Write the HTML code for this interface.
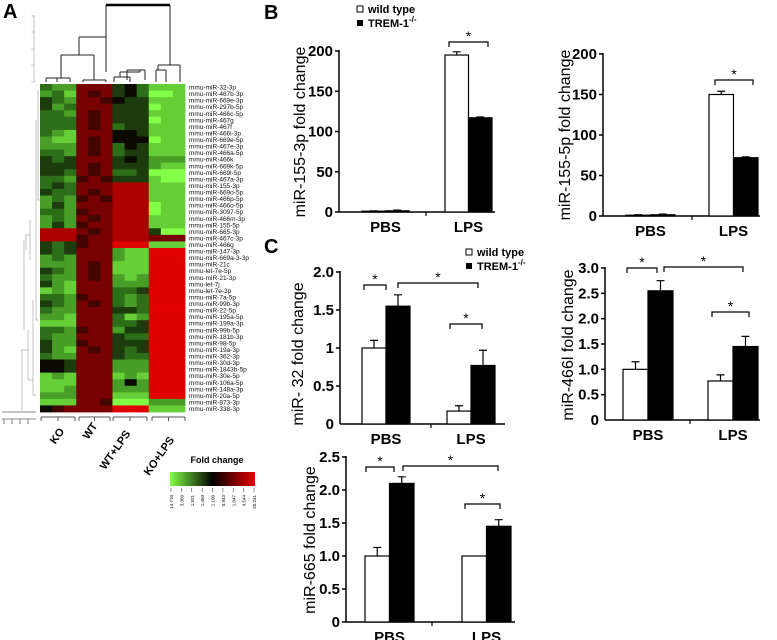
<!DOCTYPE html>
<html><head><meta charset="utf-8">
<style>
html,body{margin:0;padding:0;background:#fff;}
svg{display:block;font-family:"Liberation Sans",Arial,sans-serif;}
.tk{font-size:15px;font-weight:bold;}
.yl{font-size:16px;}
.xl{font-size:15px;font-weight:bold;}
.lg{font-size:11px;font-weight:bold;}
.pl{font-size:20px;font-weight:bold;}
.rl{font-size:6.5px;}
</style></head>
<body>
<svg id="fig" width="777" height="640" viewBox="0 0 777 640">
<text class="pl" x="3" y="18">A</text>
<text class="pl" x="264" y="19">B</text>
<text class="pl" x="264" y="253">C</text>
<g id="heat"></g>
<g id="bars"></g>
</svg>
<script>
// ---------- Heatmap data ----------
const heatRows = ["mmu-miR-32-3p","mmu-miR-467b-3p","mmu-miR-669e-3p","mmu-miR-297b-5p","mmu-miR-466c-5p","mmu-miR-467g","mmu-miR-467f","mmu-miR-466i-3p","mmu-miR-669e-5p","mmu-miR-467e-3p","mmu-miR-466a-5p","mmu-miR-466k","mmu-miR-669k-5p","mmu-miR-669l-5p","mmu-miR-467a-3p","mmu-miR-155-3p","mmu-miR-669o-5p","mmu-miR-466p-5p","mmu-miR-466o-5p","mmu-miR-3097-5p","mmu-miR-466m-3p","mmu-miR-155-5p","mmu-miR-665-3p","mmu-miR-467c-3p","mmu-miR-466g","mmu-miR-147-3p","mmu-miR-669a-3-3p","mmu-miR-21c","mmu-let-7e-5p","mmu-miR-21-3p","mmu-let-7j","mmu-let-7e-3p","mmu-miR-7a-5p","mmu-miR-99b-3p","mmu-miR-22-5p","mmu-miR-195a-5p","mmu-miR-199a-3p","mmu-miR-99b-5p","mmu-miR-181b-3p","mmu-miR-98-5p","mmu-miR-19a-3p","mmu-miR-362-3p","mmu-miR-30d-3p","mmu-miR-1843b-5p","mmu-miR-30e-5p","mmu-miR-106a-5p","mmu-miR-148a-3p","mmu-miR-20a-5p","mmu-miR-873-3p","mmu-miR-338-3p"];
const heatGroups = ["KO","WT","WT+LPS","KO+LPS"];
const heatValues = ["322777453111","231767453001","432776544111","423777444011","332767444111","333767444011","333767344111","321777554111","211767555011","222767354111","332767344111","434777454222","444767444211","443767334000","332676444100","343777888111","433767888111","232676888111","242777888011","332677888011","232767888111","242677888111","888767888400","888677888777","434677999111","434777211999","232777211999","222767111999","432767111999","322767212999","421777222999","121777334999","332677323999","432767323999","322777443999","221777312999","111777334999","332677244999","322777433999","422677444999","421767434999","322777433999","554777222999","554777222999","121777121999","111777252999","112777222999","222777111999","111776000222","567777999111"];
const colorbarTicks = ["14.710","3.309","1.921","1.450","1.100","0.943","1.047","4.544","20.241"];

// ---------- Bar chart data ----------
const groups = ["PBS","LPS"];
const b1WT = [1, 195], b1KO = [1.5, 117], b1WTerr = [0.5, 4], b1KOerr = [0.8, 1];
const b2WT = [1, 150], b2KO = [1.5, 72], b2WTerr = [0.5, 4], b2KOerr = [0.8, 1];
const c1WT = [1.0, 0.17], c1KO = [1.55, 0.77], c1WTerr = [0.1, 0.07], c1KOerr = [0.15, 0.2];
const c2WT = [1.0, 0.77], c2KO = [2.55, 1.45], c2WTerr = [0.15, 0.12], c2KOerr = [0.2, 0.2];
const c3WT = [1.0, 1.0], c3KO = [2.1, 1.45], c3WTerr = [0.13, 0.0], c3KOerr = [0.1, 0.1];
const b1Ticks = ["0","50","100","150","200"], b1TickVals = [0,50,100,150,200];
const c1Ticks = ["0.5","1","1.5","2.0"], c1TickVals = [0.5,1,1.5,2.0];
const c2Ticks = ["0.5","1.0","1.5","2.0","2.5","3.0"], c2TickVals = [0.5,1,1.5,2,2.5,3];
const c3Ticks = ["0","0.5","1.0","1.5","2.0","2.5"], c3TickVals = [0,0.5,1,1.5,2,2.5];

const NS = "http://www.w3.org/2000/svg";
function mk(parent, tag, attrs, text){
  const e = document.createElementNS(NS, tag);
  for (const k in attrs) e.setAttribute(k, attrs[k]);
  if (text !== undefined) e.textContent = text;
  parent.appendChild(e);
  return e;
}
function heatColor(v){
  const stops = [[0,[130,255,70]],[3,[45,110,25]],[5,[12,10,0]],[7,[120,0,0]],[9,[225,0,0]]];
  for (let i=0;i<stops.length-1;i++){
    const [a,ca]=stops[i],[b,cb]=stops[i+1];
    if (v<=b){const t=(v-a)/(b-a);return "rgb("+ca.map((c,j)=>Math.round(c+(cb[j]-c)*t)).join(",")+")";}
  }
  return "rgb(225,0,0)";
}

// ---------- Heatmap ----------
const H = document.getElementById("heat");
const hx0 = 40, hx1 = 185, hy0 = 84, hy1 = 412;
const cw = (hx1-hx0)/12, rh = (hy1-hy0)/heatRows.length;
heatValues.forEach((row,r)=>{
  for (let c=0;c<12;c++){
    const cell = mk(H,"rect",{x:hx0+c*cw,y:hy0+r*rh,width:cw+0.4,height:rh+0.4,fill:heatColor(+row[c])});
    
    
  }
  const lab = mk(H,"text",{x:hx1+4,y:hy0+r*rh+rh-1,class:"rl",fill:"#111"},heatRows[r]);
  
  
});
// column dendrogram
const dend = mk(H,"path",{d:"M106 5H170M106 5V37M170 5V65M79 37H106M79 37V55M106 37V72M61 55H94M61 55V78M94 55V80M46 78H70M46 78V82M57 78V82M70 78V82M83 80H106M83 80V82M106 80V82M120 72H140M120 72V77M140 72V70M127 70H145M127 70V80M145 70V80M114 77H130M114 77V82M130 77V82M158 65H180M158 65V70M180 65V82M156 70H166M156 70V82M166 70V82",stroke:"#222","stroke-width":1,fill:"none"});


mk(dend.parentNode,"path",{d:"M106 5H170",stroke:"#000","stroke-width":2.5});
const dax = mk(H,"path",{d:"M34 15V82M31 16H34M31 32H34M31 49H34M31 65H34M31 82H34",stroke:"#999","stroke-width":0.6,fill:"none"});


const rd = mk(H,"path",{d:"M22 410V350H28M28 330V380H33M33 300V395H36M36 120V320H38M38 90V200H40M24 240V330M26 250V235H30M30 220V260",stroke:"#aaa","stroke-width":0.7,fill:"none"});


mk(H,"path",{d:"M2 412H36M2 419H36M4 419V424M12 419V424M20 419V424M28 419V424",stroke:"#666","stroke-width":0.8,fill:"none"});
const gx = [[41,75],[79,110],[113,147],[152,185]];
const gc = [[60,438],[93,433],[118,452],[162,458]];
heatGroups.forEach((g,i)=>{
  mk(H,"path",{d:`M${gx[i][0]} 417H${gx[i][1]}M${gx[i][0]} 417V421M${gx[i][1]} 417V421M${(gx[i][0]+gx[i][1])/2} 417V421`,stroke:"#555","stroke-width":1});
  const t = mk(H,"text",{x:gc[i][0],y:gc[i][1],"font-size":"11px","font-weight":"bold","text-anchor":"middle",transform:`rotate(-55 ${gc[i][0]} ${gc[i][1]})`},g);
  
  
});
const defs = mk(H,"defs",{});
const lgd = mk(defs,"linearGradient",{id:"cb",x1:"0",x2:"1",y1:"0",y2:"0"});
mk(lgd,"stop",{offset:"0",["stop-color"]:"rgb(130,255,70)"});
mk(lgd,"stop",{offset:"0.5",["stop-color"]:"rgb(0,0,0)"});
mk(lgd,"stop",{offset:"1",["stop-color"]:"rgb(230,0,0)"});
const cbar = mk(H,"rect",{x:170,y:472,width:85,height:14,fill:"url(#cb)"});


const cbt = mk(H,"text",{x:217,y:463,"font-size":"9px","font-weight":"bold","text-anchor":"middle"},"Fold change");


colorbarTicks.forEach((t,i)=>{
  const x = 171 + i*(83/(colorbarTicks.length-1));
  mk(H,"line",{x1:x,x2:x,y1:488,y2:492,stroke:"#444","stroke-width":0.6});
  const tt = mk(H,"text",{x:x+2,y:495,"font-size":"4.5px","text-anchor":"end",transform:`rotate(-90 ${x+2} 495)`},t);
  
  
});

// ---------- Bar charts ----------
const B = document.getElementById("bars");
function legend(x,y,name){
  const g = mk(B,"g",{});
  
  
  mk(g,"rect",{x:x,y:y-7,width:6,height:6,fill:"#fff",stroke:"#000","stroke-width":1});
  mk(g,"text",{x:x+11,y:y,class:"lg"},"wild type");
  mk(g,"rect",{x:x,y:y+7,width:6,height:6,fill:"#000"});
  const t = mk(g,"text",{x:x+11,y:y+14,class:"lg"},"TREM-1");
  mk(t,"tspan",{dy:-5,"font-size":"8px"},"-/-");
}
function chart(o){
  const g = mk(B,"g",{});
  
  
  const ys = v => o.y0 - (v - 0)*(o.y0 - o.yTop)/o.vmax;
  mk(g,"line",{x1:o.ax,x2:o.ax,y1:ys(o.vmax)-1,y2:o.y0,stroke:"#000","stroke-width":1.5});
  mk(g,"line",{x1:o.ax,x2:o.axEnd,y1:o.y0,y2:o.y0,stroke:"#000","stroke-width":1.5});
  mk(g,"line",{x1:o.mid,x2:o.mid,y1:o.y0,y2:o.y0+4,stroke:"#000","stroke-width":1.2});
  o.ticks.forEach((t,i)=>{
    const y = ys(o.tickVals[i]);
    mk(g,"line",{x1:o.ax-4,x2:o.ax,y1:y,y2:y,stroke:"#000","stroke-width":1.5});
    const tl = mk(g,"text",{x:o.ax-6,y:y+5,class:"tk","text-anchor":"end"},t);
    
    
  });
  if (o.zeroLabel){
    const tl = mk(g,"text",{x:o.ax-6,y:o.y0+5,class:"tk","text-anchor":"end"},"0");
    
    
  }
  const yl = mk(g,"text",{x:o.ylx,y:o.yly,class:"yl","text-anchor":"middle",transform:`rotate(-90 ${o.ylx} ${o.yly})`},o.ylabel);
  
  
  groups.forEach((gname,i)=>{
    const x = o.gx[i];
    const w = o.bw;
    [[o.wt,o.wtErr,"#fff",x],[o.ko,o.koErr,"#000",x+w]].forEach(([vals,errs,fill,bx],k)=>{
      const top = ys(vals[i]);
      const r = mk(g,"rect",{x:bx,y:top,width:w,height:o.y0-top,fill:fill,stroke:"#000","stroke-width":1.2});
      
      
      if (errs[i] > 0){
        const ey = ys(vals[i]+errs[i]);
        const cx = bx + w/2;
        mk(g,"path",{d:`M${cx} ${top}V${ey}M${cx-4} ${ey}H${cx+4}`,stroke:"#000","stroke-width":1.2,fill:"none"});
      }
    });
    const xl = mk(g,"text",{x:x+w,y:o.y0+20,class:"xl","text-anchor":"middle"},gname);
    
    
  });
  (o.brackets||[]).forEach(b=>{
    mk(g,"path",{d:`M${b[0]} ${b[2]+5}V${b[2]}H${b[1]}V${b[2]+5}`,stroke:"#000","stroke-width":1.2,fill:"none"});
    const s = mk(g,"text",{x:(b[0]+b[1])/2,y:b[2]-1,"font-size":"14px","text-anchor":"middle"},"*");
    
    
  });
}
legend(357,13,"legend-b");
legend(466,256,"legend-c");
chart({name:"chart-mir155-3p",ax:339,axEnd:495,mid:426,y0:212,yTop:51,vmax:200,ticks:b1Ticks,tickVals:b1TickVals,
  wt:b1WT,ko:b1KO,wtErr:b1WTerr,koErr:b1KOerr,gx:[362,445],bw:23.5,ylabel:"miR-155-3p fold change",ylx:305,yly:132,
  brackets:[[449,488,42]]});
chart({name:"chart-mir155-5p",ax:603,axEnd:760,mid:692,y0:216,yTop:54,vmax:200,ticks:b1Ticks,tickVals:b1TickVals,
  wt:b2WT,ko:b2KO,wtErr:b2WTerr,koErr:b2KOerr,gx:[626,709],bw:24.5,ylabel:"miR-155-5p fold change",ylx:570,yly:135,
  brackets:[[715,753,80]]});
chart({name:"chart-mir32",ax:340,axEnd:505,mid:431,y0:424,yTop:272,vmax:2.0,ticks:c1Ticks,tickVals:c1TickVals,zeroLabel:true,
  wt:c1WT,ko:c1KO,wtErr:c1WTerr,koErr:c1KOerr,gx:[362,447],bw:24,ylabel:"miR- 32 fold change",ylx:303,yly:354,
  brackets:[[364,386,285],[398,478,283],[450,482,324]]});
chart({name:"chart-mir466l",ax:605,axEnd:760,mid:690,y0:420,yTop:268,vmax:3.0,ticks:c2Ticks,tickVals:c2TickVals,zeroLabel:true,
  wt:c2WT,ko:c2KO,wtErr:c2WTerr,koErr:c2KOerr,gx:[623,708],bw:25,ylabel:"miR-466l fold change",ylx:573,yly:345,
  brackets:[[627,657,268],[664,743,267],[712,749,312]]});
chart({name:"chart-mir665",ax:346,axEnd:515,mid:432,y0:622,yTop:457,vmax:2.5,ticks:c3Ticks,tickVals:c3TickVals,
  wt:c3WT,ko:c3KO,wtErr:c3WTerr,koErr:c3KOerr,gx:[365,462],bw:24.5,ylabel:"miR-665 fold change",ylx:315,yly:540,
  brackets:[[366,394,467],[403,498,466],[465,500,504]]});
</script>
</body></html>
